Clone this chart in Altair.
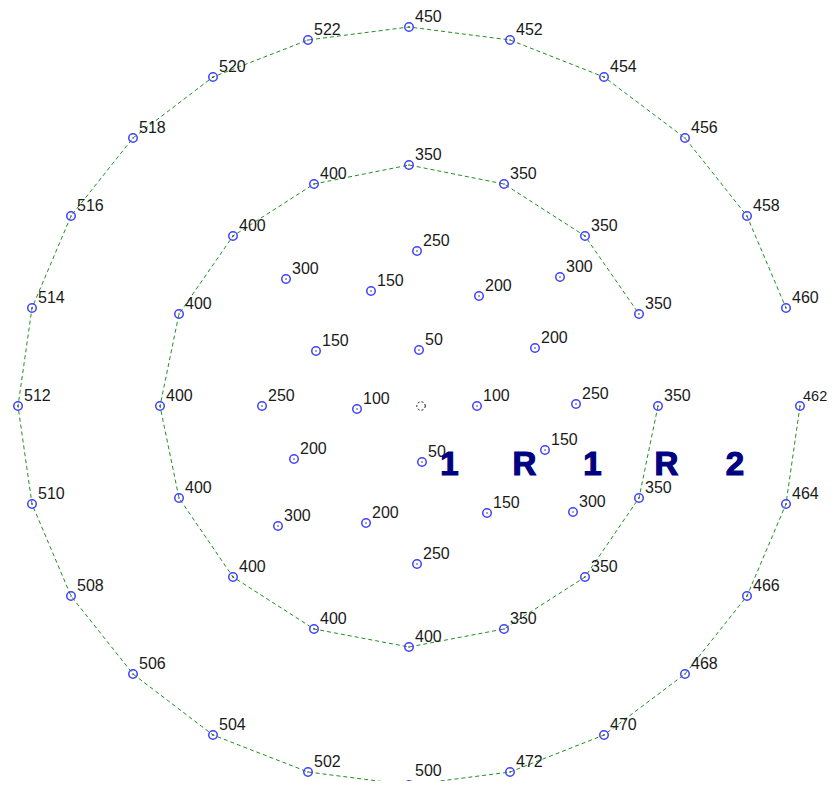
import altair as alt
import pandas as pd

# Outer ring (connected, gap between 460 and 462)
outer_labels = [462, 464, 466, 468, 470, 472, 500, 502, 504, 506, 508, 510,
                512, 514, 516, 518, 520, 522, 450, 452, 454, 456, 458, 460]
outer_x = [391, 377, 338, 276, 195, 101, 0, -101, -196, -276, -338, -377,
           -391, -377, -338, -276, -196, -101, 0, 101, 195, 276, 338, 377]
outer_y = [0, -98, -190, -268, -329, -366, -379, -366, -329, -268, -190, -98,
           0, 98, 190, 268, 329, 366, 379, 366, 329, 268, 190, 98]

# Middle ring (connected, gap between the two right-hand 350 points)
mid_labels = [350, 350, 350, 350, 400, 400, 400, 400,
              400, 400, 400, 400, 350, 350, 350, 350]
mid_x = [249, 230, 176, 95, 0, -95, -176, -230,
         -249, -230, -176, -95, 0, 95, 176, 230]
mid_y = [0, -92, -171, -223, -241, -223, -171, -92,
         0, 92, 170, 222, 241, 222, 170, 92]

# Inner scattered points (not connected)
inner_labels = [50, 250, 150, 200, 300, 300, 150, 200, 250, 100,
                100, 250, 200, 50, 150, 300, 200, 150, 300, 250]
inner_x = [10, 8, -38, 70, -123, 151, -93, 126, -147, -52,
           68, 167, -115, 13, 136, -131, -43, 78, 164, 8]
inner_y = [56, 155, 115, 110, 127, 129, 55, 58, 0, -3,
           0, 2, -53, -56, -44, -120, -117, -107, -106, -158]

# Centre reference point
center_x = [12]
center_y = [0]

# Big annotation letters
big_letters = ["1", "R", "1", "R", "2"]
big_x = [40.5, 115.5, 183.5, 257.5, 326]
big_y = [-69, -69, -69, -69, -69]

rows = []
for i, (x, y, l) in enumerate(zip(outer_x, outer_y, outer_labels)):
    rows.append(dict(x=x, y=y, label=str(l), ring="outer", order=i))
for i, (x, y, l) in enumerate(zip(mid_x, mid_y, mid_labels)):
    rows.append(dict(x=x, y=y, label=str(l), ring="mid", order=i))
for i, (x, y, l) in enumerate(zip(inner_x, inner_y, inner_labels)):
    rows.append(dict(x=x, y=y, label=str(l), ring="inner", order=i))
pts = pd.DataFrame(rows)
rings = pts[pts["ring"] != "inner"]

center = pd.DataFrame({"x": center_x, "y": center_y})
big = pd.DataFrame({"x": big_x, "y": big_y, "t": big_letters})

xs = alt.Scale(domain=[-401, 418], nice=False, zero=False)
ys = alt.Scale(domain=[-375, 398], nice=False, zero=False)
X = alt.X("x:Q", scale=xs, axis=None)
Y = alt.Y("y:Q", scale=ys, axis=None)

lines = alt.Chart(rings).mark_line(
    color="#1f8f1f", strokeDash=[4, 3], strokeWidth=1
).encode(x=X, y=Y, detail="ring:N", order="order:Q")

circles = alt.Chart(pts).mark_point(
    shape="circle", filled=False, size=72, color="#3f3fff", strokeWidth=1.5, opacity=1
).encode(x=X, y=Y)

dots = alt.Chart(pts).mark_point(
    shape="circle", filled=True, size=2, color="#111111", opacity=1
).encode(x=X, y=Y)

cmark = alt.Chart(center).mark_point(
    shape="circle", filled=False, size=72, color="#111111", strokeWidth=1,
    strokeDash=[2, 2], opacity=1
).encode(x=X, y=Y)

right_edge = (alt.datum.ring == "outer") & (alt.datum.order == 0)
bottom_edge = (alt.datum.ring == "outer") & (alt.datum.order == 6)

labels = alt.Chart(pts).transform_filter(~right_edge & ~bottom_edge).mark_text(
    align="left", baseline="alphabetic", dx=6, dy=-5,
    font="Liberation Sans", fontSize=16, color="#1a1a1a"
).encode(x=X, y=Y, text="label:N")

right_label = alt.Chart(pts).transform_filter(right_edge).mark_text(
    align="left", baseline="alphabetic", dx=3, dy=-5,
    font="Liberation Sans", fontSize=14.5, color="#1a1a1a"
).encode(x=X, y=Y, text="label:N")

bottom_label = alt.Chart(pts).transform_filter(bottom_edge).mark_text(
    align="left", baseline="alphabetic", dx=6, dy=-9,
    font="Liberation Sans", fontSize=16, color="#1a1a1a"
).encode(x=X, y=Y, text="label:N")

bigtext = alt.Chart(big).mark_text(
    align="center", baseline="alphabetic",
    font="Liberation Sans", fontSize=33, fontWeight="bold", color="#000080",
    stroke="#000080", strokeWidth=1.2
).encode(x=X, y=Y, text="t:N")

chart = alt.layer(lines, circles, dots, cmark, labels, right_label, bottom_label,
                  bigtext).properties(
    width=819, height=773, padding=0, autosize="none", background="white"
).configure_view(stroke=None)

chart.save("out.html", embed_options={"renderer": "svg", "actions": False})
